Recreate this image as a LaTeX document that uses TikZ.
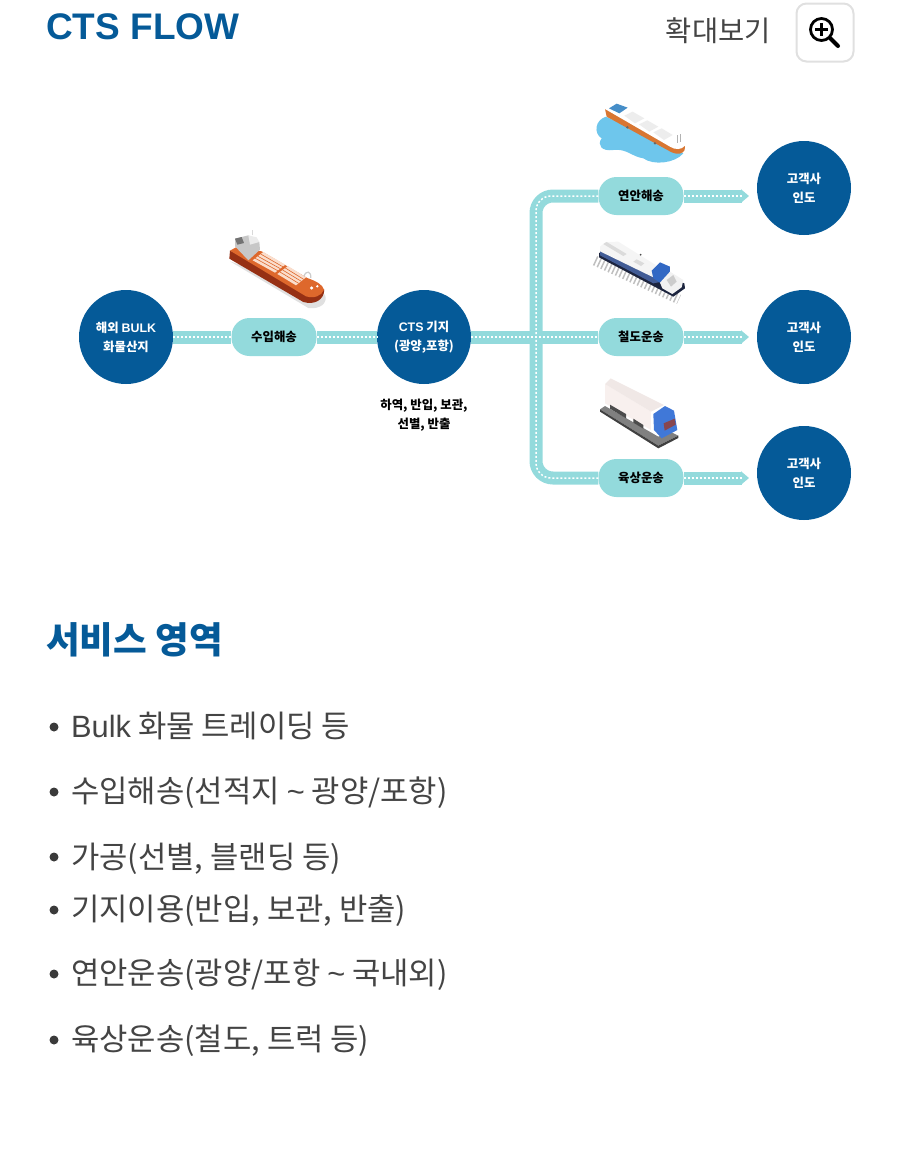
\documentclass[tikz,border=0pt]{standalone}
\usepackage{fontspec}
\setmainfont{Noto Sans CJK KR}
\newfontfamily\latinfont{Liberation Sans}
\usepackage{xcolor}
\usetikzlibrary{arrows.meta}
\definecolor{navy}{HTML}{055A98}
\definecolor{mint}{HTML}{93DADC}
\definecolor{inktext}{HTML}{444444}
\definecolor{hatchcream}{HTML}{FADECD}
\tikzset{
  hubdot/.style={circle,fill=navy,minimum size=94pt,inner sep=0pt,text=white,align=center,font=\fontsize{12.4}{19}\selectfont\bfseries,execute at begin node={\rule{0pt}{14pt}}},
  pill/.style={rectangle,rounded corners=18pt,fill=mint,minimum width=85pt,minimum height=38pt,inner sep=0pt,font=\fontsize{12.4}{15}\selectfont\bfseries},
  flowline/.style={draw=mint,line width=13pt},
  flowtip/.style={flowline,-{Triangle[width=13pt,length=8pt]}},
  flowdots/.style={draw=white,line width=1.5pt,dash pattern=on 2pt off 2pt},
  listtext/.style={anchor=west,inner sep=0pt,text=inktext,font=\fontsize{30.8}{36}\selectfont},
  listdot/.style={circle,fill=inktext!85!black,minimum size=9pt,inner sep=0pt},
}
\begin{document}
\begin{tikzpicture}[x=1pt,y=-1pt]
    \useasboundingbox (0,0) rectangle (900,1160);
    \node[anchor=west,inner sep=0pt,text=navy,font=\fontsize{37}{44}\selectfont\bfseries\latinfont] (title) at (46,27) {CTS FLOW};
    \node[anchor=east,inner sep=0pt,text=inktext,font=\fontsize{28.5}{32}\selectfont] (zoomtext) at (771,31) {확대보기};
    \node[draw=black!12,line width=2pt,rounded corners=10pt,fill=white,minimum width=57pt,minimum height=58pt,inner sep=0pt] (zoombtn) at (825,32.5) {};
    \node[circle,draw=black,line width=2.8pt,minimum size=22pt,inner sep=0pt] (lens) at (821.5,29.5) {};
    \coordinate (lensend) at (838,46);
    \draw[line width=4pt,line cap=round] (lens) -- (lensend);
    \draw[line width=2.4pt] (815,29.5) -- (828,29.5);
    \draw[line width=2.4pt] (821.5,23) -- (821.5,36);

    \node[hubdot] (mine) at (126,337) {해외 {\latinfont BULK}\\화물산지};
    \node[hubdot] (hub) at (424,337) {{\latinfont CTS} 기지\\(광양,포항)};
    \node[hubdot] (custa) at (804,188) {고객사\\인도};
    \node[hubdot] (custb) at (804,337) {고객사\\인도};
    \node[hubdot] (custc) at (804,473) {고객사\\인도};
    \node[pill] (import) at (274,337) {수입해송};
    \node[pill] (coastal) at (641,196) {연안해송};
    \node[pill] (rail) at (641,337) {철도운송};
    \node[pill] (land) at (641,478) {육상운송};
    \node[align=center,inner sep=0pt,font=\fontsize{12.4}{19}\selectfont\bfseries] (hubnote) at (424,415.5) {하역, 반입, 보관,\\선별, 반출};

    \coordinate (branch) at (536,337);
    \coordinate (tipa) at (749,196);
    \coordinate (tipb) at (749,337);
    \coordinate (tipc) at (749,478);
    \coordinate (dota) at (743,196);
    \coordinate (dotb) at (743,337);
    \coordinate (dotc) at (743,478);

    \draw[flowline] (mine) -- (import);
    \draw[flowline] (import) -- (hub);
    \draw[flowline] (hub) -- (rail);
    \draw[flowline,rounded corners=17pt] (coastal.west) -| (branch);
    \draw[flowline,rounded corners=17pt] (land.west) -| (branch);
    \draw[flowtip] (coastal) -- (tipa);
    \draw[flowtip] (rail) -- (tipb);
    \draw[flowtip] (land) -- (tipc);
    \draw[flowdots] (mine) -- (import);
    \draw[flowdots] (import) -- (hub);
    \draw[flowdots] (hub) -- (rail);
    \draw[flowdots,rounded corners=15pt] (coastal.west) -| (branch);
    \draw[flowdots,rounded corners=15pt] (land.west) -| (branch);
    \draw[flowdots] (coastal) -- (dota);
    \draw[flowdots] (rail) -- (dotb);
    \draw[flowdots] (land) -- (dotc);

    \begin{scope}[shift={(220,228)},scale=0.3333]
      \fill[black!12] (30,100) -- (265,240) .. controls (300,245) and (325,225) .. (315,200) -- cycle;
      \fill[fill={rgb,255:red,150;green,48;blue,20}] (30,68) -- (28,92) -- (250,222) .. controls (285,232) and (312,215) .. (313,185) -- cycle;
      \fill[fill={rgb,255:red,222;green,104;blue,44}] (30,68) -- (48,58) -- (125,70) -- (262,150) .. controls (290,160) and (308,170) .. (312,185) .. controls (305,205) and (280,212) .. (258,205) -- cycle;
      \fill[hatchcream] (98,97) -- (130,72) -- (196,110) -- (165,134) -- cycle;
      \fill[hatchcream] (172,138) -- (204,114) -- (258,148) -- (228,172) -- cycle;
      \draw[fill=none,draw={rgb,255:red,222;green,104;blue,44},line width=0.6pt] (106,91) -- (173,128) (114,85) -- (181,122) (122,78) -- (188,116) (180,132) -- (236,166) (188,126) -- (244,160) (196,120) -- (251,154);
      \fill[black!22] (45,55) -- (45,32) -- (85,22) -- (118,42) -- (120,65) -- (85,97) -- cycle;
      \fill[black!8] (85,22) -- (110,28) -- (118,42) -- (90,50) -- cycle;
      \fill[black!55] (45,32) -- (65,27) -- (72,45) -- (52,50) -- cycle;
      \draw[black!15,line width=1pt] (98,22) -- (98,5);
      \draw[black!20,line width=1.2pt] (252,145) .. controls (258,125) and (275,130) .. (272,150);
      \fill[white] (275,180) circle (5);
      \fill[white] (292,175) circle (4);
    \end{scope}

    \begin{scope}[shift={(590,95)},scale=0.3333]
      \fill[fill={rgb,255:red,110;green,198;blue,236}] (48,65) .. controls (15,75) and (10,115) .. (35,130) .. controls (20,150) and (35,170) .. (70,165) .. controls (110,160) and (125,185) .. (160,190) .. controls (190,212) and (255,205) .. (280,175) -- cycle;
      \fill[fill={rgb,255:red,216;green,118;blue,50}] (45,42) -- (50,65) -- (245,172) .. controls (262,180) and (280,176) .. (284,165) -- (285,150) -- cycle;
      \fill[white] (45,42) -- (75,20) -- (112,28) -- (270,120) .. controls (285,130) and (290,145) .. (285,152) .. controls (275,165) and (255,165) .. (240,155) -- cycle;
      \fill[fill={rgb,255:red,70;green,142;blue,200}] (57,40) -- (80,26) -- (113,38) -- (88,55) -- cycle;
      \fill[black!7] (103,62) -- (128,50) -- (163,70) -- (135,85) -- cycle;
      \fill[black!7] (147,88) -- (172,76) -- (205,95) -- (178,110) -- cycle;
      \fill[black!7] (190,112) -- (215,100) -- (248,120) -- (222,135) -- cycle;
      \draw[black!30,line width=0.8pt] (262,120) -- (262,145);
      \draw[black!30,line width=0.8pt] (272,118) -- (272,142);
      \fill[black!60] (112,97) circle (4);
      \fill[black!60] (195,145) circle (4);
    \end{scope}

    \begin{scope}[shift={(585,230)},scale=0.3333]
      \draw[black!25,line width=10pt,dash pattern=on 1.5pt off 2.5pt] (30,92) -- (282,208);
      \fill[fill={rgb,255:red,28;green,36;blue,62}] (42,68) -- (42,82) -- (250,192) -- (265,200) -- (300,175) -- (298,160) -- cycle;
      \fill[fill={rgb,255:red,66;green,92;blue,150}] (45,62) -- (45,76) -- (205,160) -- (225,156) -- (205,138) -- cycle;
      \fill[black!4] (45,50) -- (62,36) -- (100,35) -- (212,105) -- (205,142) -- (45,64) -- cycle;
      \fill[black!14] (55,42) -- (65,36) -- (125,72) -- (115,78) -- cycle;
      \fill[black!14] (145,95) -- (155,88) -- (178,100) -- (168,108) -- cycle;
      \fill[black!70] (167,74) circle (3);
      \fill[fill={rgb,255:red,50;green,104;blue,196}] (200,122) -- (225,97) -- (255,110) -- (255,130) -- (225,158) -- (205,145) -- cycle;
      \fill[black!5] (225,158) -- (255,125) -- (295,150) -- (290,172) -- (262,192) -- (232,175) -- cycle;
      \fill[black!20] (245,150) -- (265,135) -- (275,155) -- (258,170) -- cycle;
    \end{scope}

    \begin{scope}[shift={(590,370)},scale=0.3333]
      \fill[black!50] (30,118) -- (45,108) -- (205,200) -- (240,185) -- (265,197) -- (205,227) -- cycle;
      \fill[black!75] (30,118) -- (30,125) -- (205,235) -- (265,204) -- (265,197) -- (205,227) -- cycle;
      \fill[fill={rgb,255:red,248;green,240;blue,238}] (45,42) -- (183,125) -- (183,180) -- (45,100) -- cycle;
      \fill[fill={rgb,255:red,240;green,232;blue,230}] (45,42) -- (62,25) -- (222,105) -- (183,125) -- cycle;
      \fill[black!70] (60,104) -- (108,132) -- (108,145) -- (60,116) -- cycle;
      \fill[black!70] (130,146) -- (160,165) -- (160,176) -- (130,158) -- cycle;
      \fill[fill={rgb,255:red,64;green,120;blue,216}] (190,132) -- (225,108) -- (252,122) -- (262,180) -- (215,205) -- (192,180) -- cycle;
      \fill[fill={rgb,255:red,135;green,70;blue,80}] (221,160) -- (254,146) -- (257,164) -- (224,182) -- cycle;
    \end{scope}

    \node[anchor=west,inner sep=0pt,text=navy,font=\fontsize{36.6}{42}\selectfont\bfseries] (service) at (46,640) {서비스 영역};

    \node[listdot] (dotone) at (54,727) {};
    \node[listdot] (dottwo) at (54,792) {};
    \node[listdot] (dotthree) at (54,857) {};
    \node[listdot] (dotfour) at (54,910) {};
    \node[listdot] (dotfive) at (54,974) {};
    \node[listdot] (dotsix) at (54,1040) {};
    \node[listtext] (itemone) at (71,726) {{\latinfont Bulk} 화물 트레이딩 등};
    \node[listtext] (itemtwo) at (71,793) {수입해송(선적지 {\latinfont\textasciitilde} 광양/포항)};
    \node[listtext] (itemthree) at (71,859) {가공(선별, 블랜딩 등)};
    \node[listtext] (itemfour) at (71,911) {기지이용(반입, 보관, 반출)};
    \node[listtext] (itemfive) at (71,975) {연안운송(광양/포항 {\latinfont\textasciitilde} 국내외)};
    \node[listtext] (itemsix) at (71,1041) {육상운송(철도, 트럭 등)};
  \end{tikzpicture}
\end{document}
